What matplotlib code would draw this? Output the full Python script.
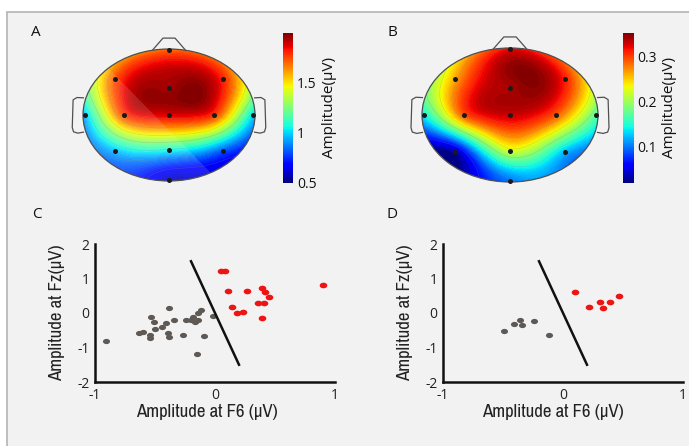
import numpy as np
import matplotlib
matplotlib.use('Agg')
import matplotlib.pyplot as plt
from matplotlib import font_manager
from matplotlib.font_manager import FontProperties
from matplotlib.patches import Circle, Rectangle, Polygon
from matplotlib.cm import ScalarMappable
from matplotlib.colors import Normalize

# ---------------- data ----------------
electrodes = ['Fpz', 'F3', 'F4', 'Fz', 'T7', 'C3', 'Cz', 'C4', 'T8', 'P3', 'Pz', 'P4', 'Oz']
elec_x = [0.0, -0.63, 0.63, 0.0, -0.98, -0.52, 0.0, 0.52, 0.98, -0.63, 0.0, 0.63, 0.0]
elec_y = [0.98, 0.54, 0.54, 0.41, 0.0, 0.0, 0.0, 0.0, 0.0, -0.55, -0.53, -0.55, -0.98]

ampA = [1.7, 1.72, 1.8, 1.95, 0.95, 1.75, 1.87, 1.77, 1.0, 0.95, 1.05, 0.8, 0.6]
ampB = [0.32, 0.26, 0.31, 0.34, 0.14, 0.29, 0.33, 0.29, 0.17, 0.03, 0.22, 0.12, 0.10]

rangeA = (0.5, 2.0)
ticksA = [0.5, 1, 1.5]
tickLabelsA = ['0.5', '1', '1.5']
rangeB = (0.02, 0.353)
ticksB = [0.1, 0.2, 0.3]
tickLabelsB = ['0.1', '0.2', '0.3']

C_gray_x = [-0.905, -0.63, -0.60, -0.54, -0.54, -0.53, -0.51, -0.50, -0.44, -0.41, -0.39, -0.38,
            -0.38, -0.34, -0.27, -0.24, -0.20, -0.18, -0.17, -0.14, -0.15, -0.14, -0.12, -0.09, -0.02]
C_gray_y = [-0.81, -0.59, -0.54, -0.64, -0.73, -0.13, -0.25, -0.47, -0.42, -0.28, -0.59, -0.69,
            0.14, -0.20, -0.63, -0.20, -0.20, -0.11, -0.25, -0.20, -1.19, 0.0, 0.09, -0.66, -0.09]
C_red_x = [0.05, 0.08, 0.11, 0.14, 0.18, 0.23, 0.27, 0.39, 0.42, 0.45, 0.36, 0.41, 0.39, 0.90]
C_red_y = [1.22, 1.22, 0.65, 0.18, -0.01, 0.02, 0.64, 0.72, 0.62, 0.47, 0.28, 0.28, -0.15, 0.81]

D_gray_x = [-0.49, -0.41, -0.36, -0.34, -0.24, -0.12]
D_gray_y = [-0.53, -0.33, -0.19, -0.34, -0.24, -0.63]
D_red_x = [0.10, 0.22, 0.31, 0.33, 0.39, 0.47]
D_red_y = [0.61, 0.18, 0.31, 0.14, 0.31, 0.49]

boundary_x = [-0.2, 0.2]
boundary_y = [1.5, -1.5]

xticks = [-1, 0, 1]
xtick_labels = ['-1', '0', '1']
yticks = [-2, -1, 0, 1, 2]
ytick_labels = ['-2', '-1', '0', '1', '2']

# ---------------- fonts ----------------
names = {f.name for f in font_manager.fontManager.ttflist}
base = 'Open Sans' if 'Open Sans' in names else 'DejaVu Sans'
plt.rcParams['font.family'] = [base, 'DejaVu Sans']


def find_narrow():
    best = None
    for f in font_manager.fontManager.ttflist:
        if f.style != 'normal':
            continue
        score = None
        if 'Narrow' in f.name and f.weight in (400, 'normal', 'regular'):
            score = 0
        elif str(f.stretch) in ('condensed', 'semi-condensed') and f.weight in (400, 'normal', 'regular'):
            score = 1
        elif 'Condensed' in f.name and f.weight in (400, 'normal', 'regular'):
            score = 2
        if score is not None and (best is None or score < best[0]):
            best = (score, f.fname)
    return best


nf = find_narrow()
if nf is not None:
    label_fp = FontProperties(fname=nf[1], size=13.5)
else:
    label_fp = FontProperties(family=base, size=10.8)

W, H = 689, 446
fig = plt.figure(figsize=(W / 100, H / 100), dpi=100)
fig.patch.set_facecolor('white')
fig.patches.append(Rectangle((7 / W, -0.05), 1.2, 1.05 - 12 / H, transform=fig.transFigure,
                             facecolor='#f2f2f2', edgecolor='#b4b4b4', lw=1.2, zorder=-10))


def px_axes(x0, y0, x1, y1):
    return fig.add_axes([x0 / W, 1 - y1 / H, (x1 - x0) / W, (y1 - y0) / H])


def green(r):
    with np.errstate(divide='ignore', invalid='ignore'):
        g = r ** 2 * (np.log(r) - 1)
    g[r == 0] = 0
    return g


def topomap(cx, cy, hw, hh, vals, vrange, shade=False):
    xl, yl = (-1.2, 1.2), (-1.1, 1.25)
    ax = px_axes(cx + xl[0] * hw, cy - yl[1] * hh, cx + xl[1] * hw, cy - yl[0] * hh)
    ax.set_xlim(xl)
    ax.set_ylim(yl)
    ax.axis('off')
    ex, ey, ev = np.array(elec_x), np.array(elec_y), np.array(vals)
    d = np.hypot(ex[:, None] - ex[None, :], ey[:, None] - ey[None, :])
    w = np.linalg.solve(green(d), ev)
    g = np.linspace(-1.03, 1.03, 221)
    X, Y = np.meshgrid(g, g)
    D = np.hypot(X[..., None] - ex, Y[..., None] - ey)
    Z = green(D) @ w
    Z = np.clip(Z, vrange[0], vrange[1])
    head = Circle((0, 0), 1.0, transform=ax.transData, facecolor='none')
    levels = np.linspace(vrange[0], vrange[1], 80)
    cf = ax.contourf(X, Y, Z, levels=levels, cmap='jet', vmin=vrange[0], vmax=vrange[1])
    cf.set_clip_path(head)
    cl = ax.contour(X, Y, Z, levels=np.linspace(vrange[0], vrange[1], 9)[1:-1],
                    colors='#808080', linewidths=0.5, alpha=0.25)
    cl.set_clip_path(head)
    if shade:
        s = -1.331
        poly = Polygon([(-1.2, 0.56 + s * (-1.2 + 0.593)), (1.2, 0.56 + s * (1.2 + 0.593)),
                        (-1.2, -2.0)], closed=True, facecolor='white', alpha=0.13, lw=0)
        ax.add_patch(poly)
        poly.set_clip_path(head)
    ax.add_patch(Circle((0, 0), 1.0, fill=False, ec='#505050', lw=0.9))
    # nose
    ax.plot([-0.19, -0.07, 0.07, 0.19], [0.985, 1.165, 1.165, 0.985], color='#505050', lw=0.9)
    # ears
    ex_l = np.array([-0.995, -1.07, -1.115, -1.125, -1.11, -1.06, -0.995])
    ey_l = np.array([0.26, 0.265, 0.23, -0.19, -0.255, -0.275, -0.26])
    ax.plot(ex_l, ey_l, color='#505050', lw=0.9)
    ax.plot(-ex_l, ey_l, color='#505050', lw=0.9)
    ax.scatter(elec_x, elec_y, s=13, c='#1a1a1a', lw=0, zorder=5)
    return ax


def colorbar(box, vrange, ticks, labels, pad):
    cax = px_axes(*box)
    sm = ScalarMappable(norm=Normalize(*vrange), cmap='jet')
    cb = fig.colorbar(sm, cax=cax, ticks=ticks)
    cb.set_ticklabels(labels)
    cb.outline.set_visible(False)
    cax.tick_params(length=0, pad=pad, labelsize=10, labelcolor='#111111')
    cb.set_label('Amplitude(μV)', fontsize=11, labelpad=4, color='#111111')


topomap(169, 115, 86, 66, ampA, rangeA, shade=True)
topomap(510, 115, 88, 67, ampB, rangeB)
colorbar((283, 33, 293, 183), rangeA, ticksA, tickLabelsA, 3)
colorbar((623, 33, 634, 183), rangeB, ticksB, tickLabelsB, 2)

t = np.linspace(0, 2 * np.pi, 40)
ell = np.column_stack([1.35 * np.cos(t), np.sin(t)])


def scatter_panel(box, gx, gy, rx, ry, xlabel_cx):
    ax = px_axes(*box)
    ax.set_facecolor('none')
    ax.set_xlim(-1, 1)
    ax.set_ylim(-2, 2)
    for s in ['top', 'right']:
        ax.spines[s].set_visible(False)
    for s in ['left', 'bottom']:
        ax.spines[s].set_linewidth(1.8)
        ax.spines[s].set_color('#111111')
    ax.set_xticks(xticks)
    ax.set_xticklabels(xtick_labels)
    ax.set_yticks(yticks)
    ax.set_yticklabels(ytick_labels)
    ax.tick_params(length=0, labelsize=10, pad=4, labelcolor='#222222')
    ax.scatter(gx, gy, marker=ell, s=26, c='#5e5954', lw=0, clip_on=False)
    ax.scatter(rx, ry, marker=ell, s=30, c='#ee1414', lw=0, clip_on=False)
    ax.plot(boundary_x, boundary_y, color='#111111', lw=1.8)
    ax.set_xlabel('Amplitude at F6 (μV)', fontproperties=label_fp, color='#222222')
    ax.xaxis.set_label_coords((xlabel_cx - box[0]) / (box[2] - box[0]), -0.16)
    ax.set_ylabel('Amplitude at Fz(μV)', fontproperties=label_fp, color='#222222', labelpad=9)
    return ax


scatter_panel((95, 244, 335, 382), C_gray_x, C_gray_y, C_red_x, C_red_y, 207)
scatter_panel((443, 244, 683, 382), D_gray_x, D_gray_y, D_red_x, D_red_y, 553)

for letter, (x, y) in zip('ABCD', [(36, 33), (392, 33), (37, 214), (392, 214)]):
    fig.text(x / W, 1 - y / H, letter, fontsize=11, ha='center', va='center', color='#111111')

fig.savefig('out.png', dpi=100, facecolor=fig.get_facecolor())
